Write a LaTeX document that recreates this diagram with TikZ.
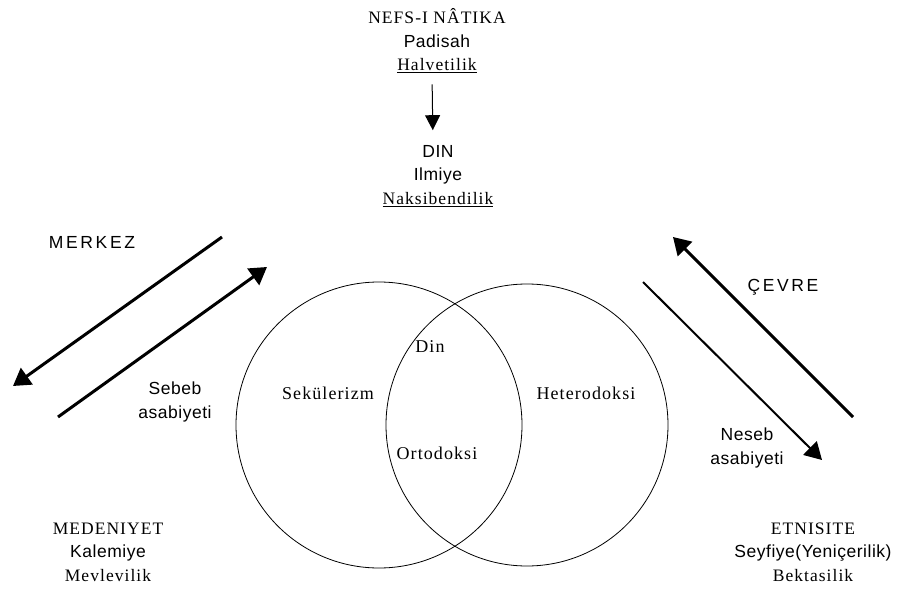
\documentclass[tikz,border=0pt]{standalone}
\usepackage{fontspec}
\setmainfont{Liberation Serif}
\setsansfont{Liberation Sans}
\newfontfamily\trm[LetterSpace=6]{Liberation Serif}
\newfontfamily\tsf[LetterSpace=3]{Liberation Sans}
\newfontfamily\tsfwide[LetterSpace=15]{Liberation Sans}
\usetikzlibrary{arrows.meta, positioning, calc}

\begin{document}
\begin{tikzpicture}[x=1pt, y=-1pt,
  lbl/.style={align=center, inner sep=0pt, font=\fontsize{17.5}{23.5}\selectfont},
  serif/.style={lbl, font=\fontsize{18}{23.5}\selectfont},
  ring/.style={circle, draw, line width=0.8pt, inner sep=0pt},
  bigarrow/.style={line width=3pt, -{Triangle[length=17pt,width=20pt]}},
  midarrow/.style={line width=2pt, -{Triangle[length=17pt,width=19pt]}},
  smallarrow/.style={line width=1pt, -{Triangle[length=15pt,width=15pt]}}]
\useasboundingbox (0,0) rectangle (906,589);

% top
\node[lbl] (Nefs) at (437,41) {{\trm NEFS-I NÂTIKA}\\{\tsf Padisah}\\{\trm\underline{Halvetilik}}};
\node[lbl] (Din) at (438,176) {{\tsf DIN}\\{\tsf Ilmiye}\\{\trm\underline{Naksibendilik}}};
\draw[smallarrow, shorten <=11pt, shorten >=15pt] ([xshift=-5pt]Nefs.south) -- ([xshift=-5pt]Din.north);

% circles
\node[ring, minimum size=286pt] (Left) at (379,425) {};
\node[ring, minimum size=282pt] (Right) at (527,425) {};
\node[serif] (Dn) at (430,347) {\trm Din};
\node[serif] (Sek) at (328,393) {\trm Sekülerizm};
\node[serif] (Het) at (586,393) {\trm Heterodoksi};
\node[serif] (Ort) at (437,453) {\trm Ortodoksi};

% left side
\node[lbl] (Merkez) at (92,242) {\tsfwide MERKEZ};
\node[lbl] (Sebeb) at (175,402) {{\tsf Sebeb}\\{\tsf asabiyeti}};
\coordinate (M1) at (222,237);
\coordinate (M2) at (13,386);
\coordinate (M3) at (58,417);
\coordinate (M4) at (267,267);
\draw[bigarrow] (M1) -- (M2);
\draw[bigarrow] (M3) -- (M4);

% right side
\node[lbl] (Cevre) at (783,287) {\tsfwide ÇEVRE};
\node[lbl] (Neseb) at (747,448) {{\tsf Neseb}\\{\tsf asabiyeti}};
\coordinate (C1) at (853,417);
\coordinate (C2) at (673,237);
\coordinate (C3) at (643,282);
\coordinate (C4) at (822,460);
\draw[bigarrow] (C1) -- (C2);
\draw[midarrow] (C3) -- (C4);

% bottom
\node[lbl] (Med) at (108,552) {{\trm MEDENIYET}\\{\tsf Kalemiye}\\{\trm Mevlevilik}};
\node[lbl] (Etn) at (813,552) {{\trm ETNISITE}\\{\tsf Seyfiye(Yeniçerilik)}\\{\trm Bektasilik}};
\end{tikzpicture}
\end{document}
